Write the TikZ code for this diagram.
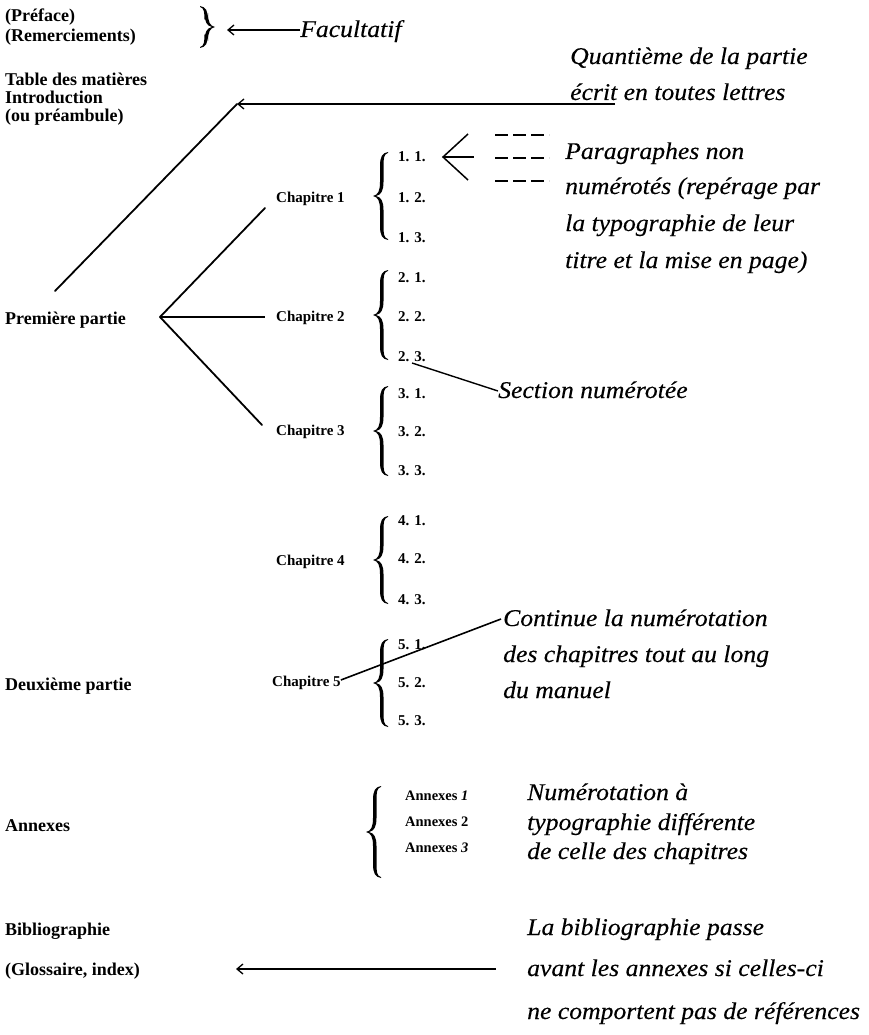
\documentclass[tikz,border=0pt]{standalone}
\usepackage{fontspec}
\setmainfont{Liberation Serif}
\newfontfamily\notefont[FakeStretch=1.07,FakeBold=0.25]{Liberation Serif}
\usetikzlibrary{arrows.meta}
\tikzset{
  pics/lbr/.style={code={
    \fill (7,-#1) .. controls (1,-#1+1) and (-1,-#1+5) .. (-1,-#1+14) -- (-1,-14)
      .. controls (-1,-5) and (-3,-1) .. (-8,0) .. controls (-3,1) and (-1,5) .. (-1,14)
      -- (-1,#1-14) .. controls (-1,#1-5) and (1,#1-1) .. (7,#1) -- (7,#1-0.9)
      .. controls (3,#1-2) and (2.5,#1-6) .. (2.5,#1-14) -- (2.5,14)
      .. controls (2.5,5) and (0,1) .. (-5,0) .. controls (0,-1) and (2.5,-5) .. (2.5,-14)
      -- (2.5,-#1+14) .. controls (2.5,-#1+6) and (3,-#1+2) .. (7,-#1+0.9) -- cycle;
  }}
}
\begin{document}
\begin{tikzpicture}[x=1pt,y=-1pt,
  lab/.style={font=\fontsize{18}{20}\selectfont\bfseries, anchor=base west, inner sep=0pt},
  chap/.style={font=\fontsize{15}{17}\selectfont\bfseries, anchor=base west, inner sep=0pt},
  sec/.style={font=\fontsize{15}{17}\selectfont\bfseries, anchor=base west, inner sep=0pt},
  annx/.style={font=\fontsize{14.5}{16}\selectfont\bfseries, anchor=base west, inner sep=0pt},
  note/.style={font=\notefont\fontsize{24}{36}\selectfont\itshape, anchor=base west, inner sep=0pt},
  thick line/.style={line width=1.8pt, line cap=round},
  thin line/.style={line width=1.1pt},
  tip/.style={-{Straight Barb[length=6pt,width=10pt,line width=1.3pt]}, line width=1.2pt},
]
\useasboundingbox (0,0) rectangle (869,1035);

% left column
\node[lab] (pref) at (5,22) {(Préface)};
\node[lab] (rem) at (5,42) {(Remerciements)};
\node[lab] (tab) at (5,86) {Table des matières};
\node[lab] (intro) at (5,104) {Introduction};
\node[lab] (pream) at (5,122) {(ou préambule)};
\node[lab] (p1) at (5,324) {Première partie};
\node[lab] (p2) at (5,690) {Deuxième partie};
\node[lab] (annexes) at (5,831) {Annexes};
\node[lab] (biblio) at (5,935) {Bibliographie};
\node[lab] (gloss) at (5,975) {(Glossaire, index)};

% brace Facultatif
\pic[xscale=-1] at (207,27) {lbr=21};
\node[note] (fac) at (300,37) {Facultatif};
\draw[tip] (fac.west |- 0,30) -- (227,30);

% Quantième
\node[note] (q1) at (570,64) {Quantième de la partie};
\node[note] (q2) at (570,100) {écrit en toutes lettres};
\coordinate (qc) at (237,104);
\coordinate (qe) at (615,104);
\coordinate (p1top) at (55,291);
\draw[tip] (qe) -- (qc);
\draw[thick line] (p1top) -- (qc);

% chapters
\node[chap] (c1) at (276,202) {Chapitre 1};
\node[chap] (c2) at (276,321) {Chapitre 2};
\node[chap] (c3) at (276,435) {Chapitre 3};
\node[chap] (c4) at (276,565) {Chapitre 4};
\node[chap] (c5) at (272,686) {Chapitre 5};

\coordinate (v) at (160,317);
\coordinate (c1a) at (265,208);
\coordinate (c2a) at (265,317);
\coordinate (c3a) at (262,425);
\draw[thick line] (v) -- (c1a);
\draw[thin line] (v) -- (c2a);
\draw[thick line] (v) -- (c3a);

% braces
\pic at (381,196) {lbr=44};
\pic at (381,315) {lbr=45};
\pic at (381,431) {lbr=45};
\pic at (381,560) {lbr=44};
\pic at (381,683) {lbr=44};

% sections
\node[sec] (s11) at (398,162) {1. 1.};
\node[sec] (s12) at (398,202) {1. 2.};
\node[sec] (s13) at (398,242) {1. 3.};
\node[sec] (s21) at (398,282) {2. 1.};
\node[sec] (s22) at (398,321) {2. 2.};
\node[sec] (s23) at (398,361) {2. 3.};
\node[sec] (s31) at (398,398) {3. 1.};
\node[sec] (s32) at (398,436) {3. 2.};
\node[sec] (s33) at (398,475) {3. 3.};
\node[sec] (s41) at (398,525) {4. 1.};
\node[sec] (s42) at (398,563) {4. 2.};
\node[sec] (s43) at (398,604) {4. 3.};
\node[sec] (s51) at (398,649) {5. 1.};
\node[sec] (s52) at (398,687) {5. 2.};
\node[sec] (s53) at (398,725) {5. 3.};

% Paragraphes
\coordinate (pt) at (443,157);
\draw[line width=1.5pt] (468,134) -- (pt) -- (468,180);
\draw[line width=1.5pt] (pt) -- (474,157);
\foreach \yy in {135,158,181}
  \draw[line width=2pt, dash pattern=on 13pt off 5pt] (495,\yy) -- (549,\yy);
\node[note] (pa1) at (565,159) {Paragraphes non};
\node[note] (pa2) at (565,194) {numérotés (repérage par};
\node[note] (pa3) at (565,231) {la typographie de leur};
\node[note] (pa4) at (565,268) {titre et la mise en page)};

% Section numérotée
\node[note] (secn) at (498,398) {Section numérotée};
\draw[line width=1.4pt] (412,363) -- (secn.west |- 0,391);

% Continue
\node[note] (co1) at (503,626) {Continue la numérotation};
\node[note] (co2) at (503,662) {des chapitres tout au long};
\node[note] (co3) at (503,698) {du manuel};
\draw[line width=1.6pt] (c5.east |- 0,680) -- (501,619);

% Annexes
\pic at (374,832) {lbr=46};
\node[annx] (a1) at (405,800) {Annexes \textit{1}};
\node[annx] (a2) at (405,826) {Annexes 2};
\node[annx] (a3) at (405,852) {Annexes \textit{3}};
\node[note] (nu1) at (527,800) {Numérotation à};
\node[note] (nu2) at (527,830) {typographie différente};
\node[note] (nu3) at (527,859) {de celle des chapitres};

% Bibliographie
\node[note] (lb1) at (527,935) {La bibliographie passe};
\node[note] (lb2) at (527,976) {avant les annexes si celles-ci};
\node[note] (lb3) at (527,1019) {ne comportent pas de références};
\coordinate (be) at (496,969);
\coordinate (bt) at (236,969);
\draw[tip] (be) -- (bt);
\end{tikzpicture}
\end{document}
